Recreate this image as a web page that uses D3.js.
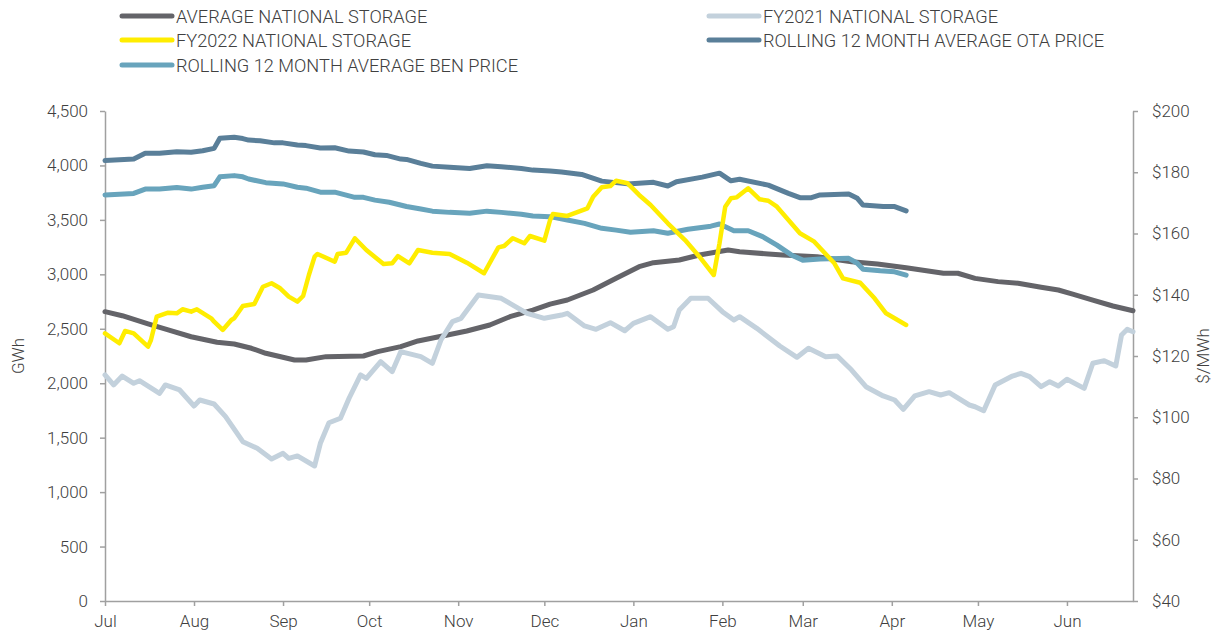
<!DOCTYPE html>
<html>
<head>
<meta charset="utf-8">
<script src="https://cdnjs.cloudflare.com/ajax/libs/d3/7.8.5/d3.min.js"></script>
<style>
  body { margin: 0; background: #fff; }
  #chart text { font-family: Roboto, "Open Sans", sans-serif; font-weight: 300; fill: #404040; }
</style>
</head>
<body>
<div id="chart"></div>
<script>
////////////////// data (days counted from 1 Jul 2021) ////////////////////////////////////
const months = ["Jul","Aug","Sep","Oct","Nov","Dec","Jan","Feb","Mar","Apr","May","Jun"];

// average national storage (GWh)
const avgDays = [0,6,15,22,30,39,45,51,56,66,70,77,90,95,103,109,118,126,134,141,149,155,161,170,178,186,191,200,207,217,221,231,236,248,260,269,279,292,297,303,311,318,326,332,337,344,351,358];
const avgStorage = [2657,2620,2544,2489,2427,2376,2360,2321,2275,2213,2213,2244,2250,2290,2336,2388,2436,2480,2535,2611,2672,2727,2764,2856,2964,3070,3107,3132,3178,3223,3208,3187,3178,3162,3116,3095,3060,3010,3010,2963,2933,2918,2881,2856,2819,2764,2709,2666];

// FY2021 national storage (GWh)
const fy2021Days = [0,3,6,10,12,19,21,26,31,33,38,42,48,53,58,62,64,67,73,75,78,82,85,89,91,96,100,103,110,114,117,121,124,130,138,141,147,153,159,161,167,171,176,181,184,190,196,198,200,204,210,215,219,221,227,235,241,245,251,255,260,265,271,275,278,282,287,291,294,301,303,306,310,316,319,322,326,329,332,335,341,344,348,352,354,356,358];
const fy2021Storage = [2076,1984,2066,1999,2023,1907,1984,1938,1791,1846,1809,1693,1463,1402,1304,1356,1310,1332,1240,1448,1637,1678,1862,2076,2045,2198,2106,2290,2244,2183,2397,2565,2596,2810,2780,2734,2642,2596,2626,2642,2526,2495,2556,2482,2550,2611,2495,2519,2672,2780,2780,2657,2581,2611,2504,2342,2238,2321,2244,2250,2121,1968,1883,1846,1760,1883,1922,1892,1913,1800,1784,1748,1984,2066,2091,2060,1968,2014,1975,2036,1953,2183,2207,2158,2443,2495,2473];

// FY2022 national storage (GWh)
const fy2022Days = [0,5,7,10,15,16,18,22,25,27,30,32,37,38,41,44,45,48,52,55,58,61,64,67,69,71,73,74,80,81,84,87,91,97,100,102,106,109,114,120,126,132,137,139,142,146,148,153,155,156,161,168,170,173,176,178,182,186,190,196,202,207,212,214,216,218,220,224,228,231,234,242,247,254,257,263,268,272,279];
const fy2022Storage = [2458,2367,2480,2458,2336,2397,2611,2648,2642,2679,2657,2679,2596,2565,2489,2581,2596,2709,2728,2886,2918,2872,2795,2749,2801,2994,3162,3187,3116,3187,3199,3331,3223,3095,3101,3168,3101,3223,3199,3187,3107,3010,3248,3260,3331,3285,3352,3309,3499,3554,3536,3606,3713,3799,3811,3860,3836,3729,3637,3469,3315,3162,2994,3285,3621,3698,3707,3790,3689,3676,3621,3377,3300,3101,2963,2923,2780,2642,2535];

// rolling 12 month average OTA price ($/MWh)
const otaDays = [0,10,14,19,25,30,34,38,40,45,48,50,54,59,62,67,70,75,80,85,90,94,98,103,105,110,114,120,127,133,138,145,149,155,159,166,173,182,191,196,199,208,214,218,221,231,238,242,246,249,259,262,264,271,275,279];
const otaPrice = [183.8,184.3,186.2,186.2,186.7,186.5,187.0,187.8,191.1,191.4,191.0,190.5,190.3,189.6,189.6,188.9,188.7,187.9,188.0,186.9,186.6,185.7,185.5,184.3,184.2,182.9,182.0,181.6,181.2,182.1,181.8,181.2,180.7,180.4,180.1,179.3,177.1,176.2,176.7,175.5,176.9,178.4,179.7,177.2,177.7,175.8,173.1,171.7,171.7,172.6,172.9,171.5,169.3,168.8,168.8,167.4];

// rolling 12 month average BEN price ($/MWh)
const benDays = [0,10,14,19,25,30,34,38,40,45,48,50,56,62,67,70,75,80,87,90,94,99,105,110,114,120,127,133,138,145,149,155,161,167,173,178,183,191,196,203,211,214,219,224,229,234,239,243,249,259,262,264,270,275,279];
const benPrice = [172.6,173.1,174.5,174.5,175.0,174.5,175.1,175.6,178.5,178.9,178.5,177.8,176.6,176.2,175.1,174.8,173.5,173.5,171.8,171.8,170.9,170.2,168.8,168.0,167.3,166.9,166.6,167.3,166.9,166.3,165.7,165.5,164.4,163.3,161.7,161.1,160.4,160.9,160.1,161.4,162.4,163.1,160.9,160.9,159.0,156.2,153.0,151.3,151.7,151.9,150.3,148.3,147.8,147.5,146.4];

////////////////// set up ////////////////////////////////////
const width = 1217, height = 640;
const margin = {left: 105, right: 84, top: 111, bottom: 39};
const fyStart = new Date(2021, 6, 1),
      fyEnd = new Date(2022, 5, 24);

let svg = d3.select("#chart")
            .append("svg")
            .attr("width", width)
            .attr("height", height);

let x = d3.scaleTime()
          .domain([fyStart, fyEnd])
          .range([margin.left, width - margin.right]);
let yLeft = d3.scaleLinear()
              .domain([0, 4500])
              .range([height - margin.bottom, margin.top]);
let yRight = d3.scaleLinear()
               .domain([40, 200])
               .range([height - margin.bottom, margin.top]);

const day = d => d3.timeDay.offset(fyStart, d);
const axisColour = "#a0a0a0";

//style helper for axes
function styleAxis(g) {
  g.select(".domain").attr("stroke", axisColour).attr("stroke-width", 1.5);
  g.selectAll(".tick line").attr("stroke", axisColour).attr("stroke-width", 1.5);
  g.selectAll(".tick text").style("font-size", "17px");
}

// x axis (months)
svg.append("g")
   .attr("transform", `translate(0,${height - margin.bottom})`)
   .call(d3.axisBottom(x)
           .tickValues(d3.timeMonth.range(fyStart, fyEnd))
           .tickFormat((d, i) => months[i])
           .tickSizeInner(5)
           .tickSizeOuter(0)
           .tickPadding(9))
   .call(styleAxis);

// left axis (GWh)
svg.append("g")
   .attr("transform", `translate(${margin.left},0)`)
   .call(d3.axisLeft(yLeft)
           .tickValues(d3.range(0, 4501, 500))
           .tickFormat(d3.format(","))
           .tickSizeInner(5)
           .tickSizeOuter(0)
           .tickPadding(12))
   .call(styleAxis);

// right axis ($/MWh)
svg.append("g")
   .attr("transform", `translate(${width - margin.right},0)`)
   .call(d3.axisRight(yRight)
           .tickValues(d3.range(40, 201, 20))
           .tickFormat(d => "$" + d)
           .tickSizeInner(5)
           .tickSizeOuter(0)
           .tickPadding(14))
   .call(styleAxis);

// axis titles
svg.append("text")
   .attr("transform", `translate(24,${(margin.top + height - margin.bottom)/2}) rotate(-90)`)
   .style("text-anchor", "middle")
   .style("font-size", "17px")
   .text("GWh");
svg.append("text")
   .attr("transform", `translate(1209,${(margin.top + height - margin.bottom)/2}) rotate(-90)`)
   .style("text-anchor", "middle")
   .style("font-size", "17px")
   .text("$/MWh");

////////////////// lines ////////////////////////////////////
const series = [
  {name: "AVERAGE NATIONAL STORAGE", days: avgDays, vals: avgStorage, y: yLeft, colour: "#646469", w: 5},
  {name: "FY2021 NATIONAL STORAGE", days: fy2021Days, vals: fy2021Storage, y: yLeft, colour: "#c3d1dc", w: 5},
  {name: "ROLLING 12 MONTH AVERAGE OTA PRICE", days: otaDays, vals: otaPrice, y: yRight, colour: "#5a7f99", w: 5},
  {name: "ROLLING 12 MONTH AVERAGE BEN PRICE", days: benDays, vals: benPrice, y: yRight, colour: "#68a4bc", w: 5},
  {name: "FY2022 NATIONAL STORAGE", days: fy2022Days, vals: fy2022Storage, y: yLeft, colour: "#ffed00", w: 4.5}
];

series.forEach(function(s) {
  let pts = s.days.map((d, i) => [day(d), s.vals[i]]);
  svg.append("path")
     .datum(pts)
     .attr("fill", "none")
     .attr("stroke", s.colour)
     .attr("stroke-width", s.w)
     .attr("stroke-linejoin", "round")
     .attr("stroke-linecap", "round")
     .attr("d", d3.line()
                  .x(d => x(d[0]))
                  .y(d => s.y(d[1])));
});

////////////////// legend ////////////////////////////////////
const legendOrder = [
  ["AVERAGE NATIONAL STORAGE", 122, 16],
  ["FY2021 NATIONAL STORAGE", 709, 16],
  ["FY2022 NATIONAL STORAGE", 122, 40],
  ["ROLLING 12 MONTH AVERAGE OTA PRICE", 709, 40],
  ["ROLLING 12 MONTH AVERAGE BEN PRICE", 122, 65]
];
let legend = svg.append("g");
legendOrder.forEach(function(l) {
  let s = series.find(d => d.name === l[0]);
  legend.append("line")
        .attr("x1", l[1]).attr("x2", l[1] + 50)
        .attr("y1", l[2]).attr("y2", l[2])
        .attr("stroke", s.colour)
        .attr("stroke-width", 5)
        .attr("stroke-linecap", "round");
  legend.append("text")
        .attr("x", l[1] + 54)
        .attr("y", l[2])
        .attr("dy", "0.36em")
        .style("font-size", "18.2px")
        .text(l[0]);
});
</script>
</body>
</html>
